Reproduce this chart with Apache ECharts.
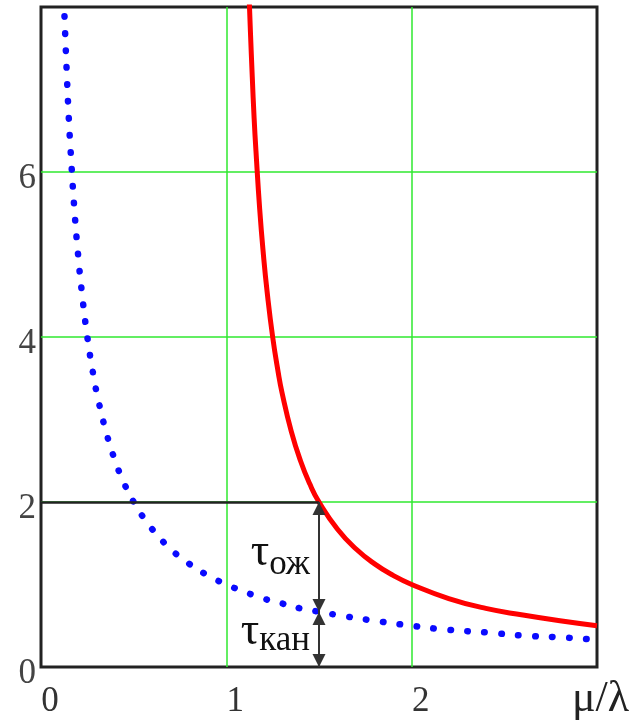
<!DOCTYPE html>
<html><head><meta charset="utf-8">
<script src="https://cdn.jsdelivr.net/npm/echarts@6/dist/echarts.min.js"></script>
<style>html,body{margin:0;padding:0;background:#fff}#c{width:644px;height:724px}</style>
</head><body><div id="c"></div>
<script>
// ---- data ----
const xTickLabels = [0, 1, 2];
const yTickLabels = [0, 2, 4, 6];
const xTitle = 'μ/λ';

// blue dotted curve (τ_кан)
const blueX = [0.12, 0.13, 0.14, 0.15, 0.16, 0.18, 0.20, 0.22, 0.25, 0.28, 0.30, 0.35, 0.40, 0.45, 0.50, 0.55, 0.60, 0.70, 0.80, 0.90, 1.00, 1.10, 1.20, 1.30, 1.40, 1.50, 1.60, 1.80, 2.00, 2.20, 2.40, 2.60, 2.80, 3.00];
const blueY = [8.30, 7.70, 7.15, 6.65, 6.25, 5.55, 5.00, 4.55, 4.00, 3.57, 3.33, 2.86, 2.50, 2.22, 2.00, 1.82, 1.67, 1.43, 1.25, 1.11, 1.00, 0.91, 0.83, 0.77, 0.71, 0.67, 0.63, 0.56, 0.50, 0.45, 0.42, 0.38, 0.36, 0.33];

// red solid curve (τ_ож + τ_кан)
const redX = [1.12, 1.13, 1.14, 1.15, 1.16, 1.18, 1.20, 1.22, 1.25, 1.28, 1.30, 1.35, 1.40, 1.45, 1.50, 1.60, 1.70, 1.80, 1.90, 2.00, 2.20, 2.40, 2.60, 2.80, 3.00];
const redY = [8.30, 7.70, 7.15, 6.65, 6.25, 5.55, 5.00, 4.55, 4.00, 3.57, 3.33, 2.86, 2.50, 2.22, 2.00, 1.67, 1.43, 1.25, 1.11, 1.00, 0.83, 0.71, 0.63, 0.56, 0.50];

// annotation: reading at μ/λ = 1.5
const markX = 1.5;
const markTotal = 2.0;   // red curve value
const markQueue = 0.667; // blue curve value

const annotations = [
  { main: 'τ', sub: 'ож',  at: [1.5, 1.19], subDrop: 8 },
  { main: 'τ', sub: 'кан', at: [1.5, 0.24], subDrop: 5 }
];

// ---- chart ----
const SERIF = '"Liberation Serif", "DejaVu Serif", serif';
const chart = echarts.init(document.getElementById('c'), null, { renderer: 'canvas' });

const pairs = (xs, ys) => xs.map((x, i) => [x, ys[i]]);
const GREEN = '#2fe82f';

const option = {
  animation: false,
  backgroundColor: '#fff',
  grid: {
    left: 41, top: 7, right: 47, bottom: 57,
    show: true, borderColor: '#222', borderWidth: 3,
    containLabel: false, outerBoundsMode: 'none'
  },
  xAxis: {
    type: 'value', min: 0, max: 3, interval: 1,
    axisLine: { show: false }, axisTick: { show: false },
    splitLine: { show: true, showMinLine: false, showMaxLine: false, lineStyle: { color: GREEN, width: 1.5 } },
    axisLabel: {
      fontFamily: SERIF, fontSize: 35, color: '#333', margin: 17,
      padding: [0, 0, 0, 18],
      formatter: v => xTickLabels.includes(v) ? String(v) : ''
    },
    name: xTitle, nameLocation: 'end', nameGap: -25,
    nameTextStyle: { fontFamily: SERIF, fontSize: 44, color: '#222', align: 'left', verticalAlign: 'top', padding: [10, 0, 0, 0] }
  },
  yAxis: {
    type: 'value', min: 0, max: 8, interval: 2,
    axisLine: { show: false }, axisTick: { show: false },
    splitLine: { show: true, showMinLine: false, showMaxLine: false, lineStyle: { color: GREEN, width: 1.5 } },
    axisLabel: {
      fontFamily: SERIF, fontSize: 35, color: '#444', margin: 5,
      verticalAlign: 'top', lineHeight: 13,
      formatter: v => yTickLabels.includes(v) ? String(v) : ''
    }
  },
  series: [
    {
      type: 'line', data: pairs(blueX, blueY), smooth: true, showSymbol: false, clip: true,
      lineStyle: { color: '#0a0aff', width: 6.5, type: [0.5, 16.5], cap: 'round' },
      silent: true, z: 3
    },
    {
      type: 'line', data: pairs(redX, redY), smooth: true, showSymbol: false, clip: true,
      lineStyle: { color: '#ff0000', width: 5 },
      silent: true, z: 4
    },
    {
      type: 'line', data: [], silent: true, z: 2,
      markLine: {
        silent: true, animation: false, symbol: 'none',
        label: { show: false },
        lineStyle: { color: '#222', width: 2.5, type: 'solid' },
        data: [[{ coord: [0, markTotal] }, { coord: [markX, markTotal] }]]
      }
    },
    {
      type: 'line', data: [], silent: true, z: 6,
      markLine: {
        silent: true, animation: false,
        symbol: ['triangle', 'triangle'], symbolSize: 13,
        symbolOffset: [[0, 6.5], [0, 6.5]],
        label: { show: false },
        lineStyle: { color: '#333', width: 2, type: 'solid' },
        itemStyle: { color: '#111' },
        data: [
          [{ coord: [markX, 0] }, { coord: [markX, markQueue] }],
          [{ coord: [markX, markQueue] }, { coord: [markX, markTotal] }]
        ]
      }
    }
  ]
};
chart.setOption(option);

// annotation texts, anchored to data coordinates
const ctx = document.createElement('canvas').getContext('2d');
const MAIN_FS = 46, SUB_FS = 35;
const g = [];
annotations.forEach(a => {
  const p = chart.convertToPixel({ gridIndex: 0 }, a.at);
  ctx.font = SUB_FS + 'px ' + SERIF;
  const subW = ctx.measureText(a.sub).width;
  const right = p[0] - 9;
  const baseMain = p[1];
  const baseSub = p[1] + a.subDrop;
  g.push({
    type: 'text', z: 10, silent: true,
    style: { text: a.sub, x: right, y: baseSub - 0.3375 * SUB_FS, font: SUB_FS + 'px ' + SERIF, fill: '#111', align: 'right', verticalAlign: 'middle' }
  });
  g.push({
    type: 'text', z: 10, silent: true,
    style: { text: a.main, x: right - subW, y: baseMain - 0.3375 * MAIN_FS, font: MAIN_FS + 'px ' + SERIF, fill: '#111', align: 'right', verticalAlign: 'middle' }
  });
});
chart.setOption({ graphic: g });
</script>
</body></html>
